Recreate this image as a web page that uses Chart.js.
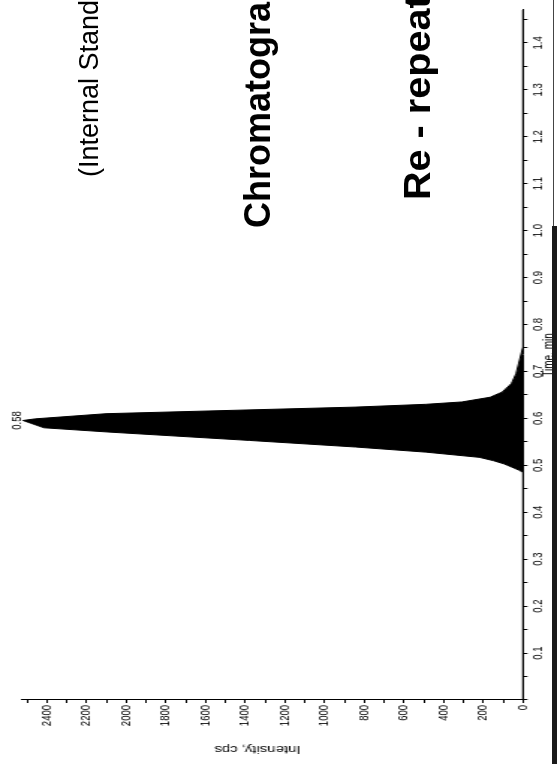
<!DOCTYPE html>
<html>
<head>
<meta charset="utf-8">
<title>Chromatogram</title>
<script src="https://cdn.jsdelivr.net/npm/chart.js@4.4.1/dist/chart.umd.min.js"></script>
<style>
	html, body { margin: 0; padding: 0; background: #fff; overflow: hidden; }
	body { width: 557px; height: 764px; position: relative; font-family: 'Liberation Sans', Arial, sans-serif; }
	/* the printout is turned a quarter turn counter-clockwise */
	.page { position: absolute; left: 0; top: 0; width: 764px; height: 557px; overflow: hidden;
		transform-origin: 0 0; transform: translateY(764px) rotate(-90deg); }
	/* the printed plot is stretched across the time axis */
	.plot { position: absolute; left: 0; top: 0; width: 764px; height: 372px; transform-origin: 0 0; transform: scaleY(1.49731); }
	.note { position: absolute; white-space: nowrap; color: #000; transform-origin: 0 50%; }
	.n1 { left: 587px; top: 76px; font-size: 27px; line-height: 27px; }
	.n2 { left: 536px; top: 239.5px; font-size: 36px; line-height: 36px; font-weight: bold; }
	.n3 { left: 564px; top: 399.5px; font-size: 36px; line-height: 36px; font-weight: bold; transform: scaleX(1.1); }
	.edge { position: absolute; left: 552px; top: 226px; width: 5px; height: 538px; background: #1a1a1a; }
	.edgeline { position: absolute; left: 553px; top: 0; width: 1px; height: 226px; background: #444; }
</style>
</head>
<body>
<div class="page">
	<div class="plot"><canvas id="chart"></canvas></div>
	<div class="note n1">(Internal Standard)</div>
	<div class="note n2">Chromatogram</div>
	<div class="note n3">Re - repeat</div>
</div>
<div class="edgeline"></div>
<div class="edge"></div>
<script>
	// retention time (min) and intensity (cps)
	var times = [0.00, 0.485, 0.490, 0.496, 0.503, 0.510, 0.517, 0.528, 0.539, 0.553, 0.571, 0.580, 0.5955,
		0.599, 0.610, 0.618, 0.624, 0.630, 0.635, 0.645, 0.656, 0.674, 0.695, 0.716, 0.752, 1.47];
	var intensity = [0, 0, 22, 55, 95, 150, 220, 487, 844, 1378, 2093, 2414, 2520,
		2458, 2100, 1383, 847, 489, 308, 166, 105, 58, 35, 22, 0, 0];

	var timeTickLabels = ['0.1', '0.2', '0.3', '0.4', '0.5', '0.6', '0.7', '0.8', '0.9', '1.0', '1.1', '1.2', '1.3', '1.4'];
	var intensityTickLabels = ['0', '200', '400', '600', '800', '1000', '1200', '1400', '1600', '1800', '2000', '2200', '2400'];
	var peakLabel = '0.58';

	var S = 557 / 372;
	var font = "'Liberation Sans', Arial, sans-serif";

	var points = [];
	for(var i = 0; i < times.length; i++) {
		points.push({x: times[i], y: intensity[i]});
	}

	var peakLabelPlugin = {
		id: 'peakLabel',
		afterDatasetsDraw: function(chart) {
			var top = Math.max.apply(null, intensity);
			var i = intensity.indexOf(top);
			var x = chart.scales.x.getPixelForValue(times[i]);
			var y = chart.scales.y.getPixelForValue(top);
			var ctx = chart.ctx;
			ctx.save();
			ctx.font = '9.5px ' + font;
			ctx.fillStyle = '#000';
			ctx.textAlign = 'center';
			ctx.textBaseline = 'alphabetic';
			ctx.fillText(peakLabel, x, y - 1);
			ctx.restore();
		}
	};

	new Chart(document.getElementById('chart'), {
		type: 'line',
		data: {
			datasets: [{
				data: points,
				borderColor: '#000',
				backgroundColor: '#000',
				borderWidth: 1,
				pointRadius: 0,
				fill: 'origin',
				tension: 0
			}]
		},
		options: {
			responsive: true,
			maintainAspectRatio: false,
			animation: false,
			layout: {padding: {left: 0, right: 10, top: 21 / S, bottom: 0}},
			plugins: {legend: {display: false}, tooltip: {enabled: false}},
			scales: {
				x: {
					type: 'linear',
					position: 'bottom',
					min: 0,
					max: 1.47,
					afterFit: function(scale) { scale.height = 372 - 523 / S; },
					border: {display: true, color: '#000', width: 1},
					grid: {drawOnChartArea: false, tickLength: 3, tickColor: '#000', tickWidth: 1},
					ticks: {
						stepSize: 0.05,
						includeBounds: false,
						autoSkip: false,
						maxRotation: 0,
						padding: 1,
						color: '#000',
						font: {family: font, size: 9.5, lineHeight: 1.2},
						callback: function(value) {
							var s = (Math.round(value * 100) / 100).toFixed(2);
							s = s.slice(-1) == '0' ? s.slice(0, -1) : '';
							return timeTickLabels.indexOf(s) != -1 ? s : '';
						}
					},
					title: {display: true, text: 'Time, min', color: '#000', padding: 0,
						font: {family: font, size: 10, lineHeight: 1}}
				},
				y: {
					type: 'linear',
					position: 'left',
					min: 0,
					max: 2530,
					afterFit: function(scale) { scale.width = 64; },
					border: {display: true, color: '#000', width: 1},
					grid: {drawOnChartArea: false, tickLength: 3, tickColor: '#000', tickWidth: 1},
					ticks: {
						stepSize: 100,
						includeBounds: false,
						autoSkip: false,
						padding: 2,
						color: '#000',
						font: {family: font, size: 9.5, lineHeight: 1.2},
						callback: function(value) {
							var s = String(Math.round(value));
							return intensityTickLabels.indexOf(s) != -1 ? s : '';
						}
					},
					title: {display: true, text: '       Intensity, cps', color: '#000',
						padding: {top: 9.5, bottom: 0},
						font: {family: font, size: 10, lineHeight: 1.2}}
				}
			}
		},
		plugins: [peakLabelPlugin]
	});
</script>
</body>
</html>
